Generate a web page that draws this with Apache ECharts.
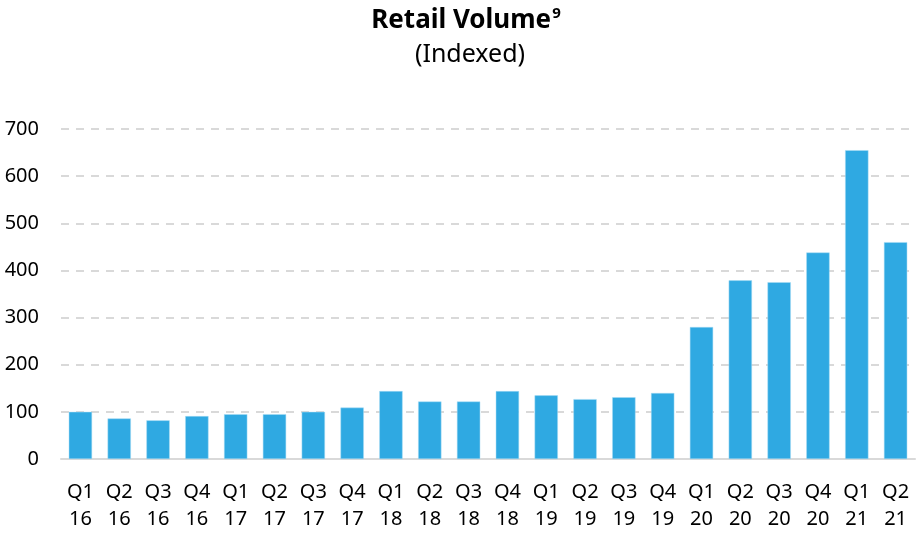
<!DOCTYPE html>
<html><head><meta charset="utf-8">
<script src="https://cdn.jsdelivr.net/npm/echarts@6/dist/echarts.min.js"></script>
<style>html,body{margin:0;padding:0;background:#fff}#c{width:917px;height:533px}</style>
</head><body><div id="c"></div>
<script>
const categories = ["Q1\n16","Q2\n16","Q3\n16","Q4\n16","Q1\n17","Q2\n17","Q3\n17","Q4\n17","Q1\n18","Q2\n18","Q3\n18","Q4\n18","Q1\n19","Q2\n19","Q3\n19","Q4\n19","Q1\n20","Q2\n20","Q3\n20","Q4\n20","Q1\n21","Q2\n21"];
const values = [100,86,82,91,95,95,100,109,144,122,122,144,135,127,131,140,280,379,375,438,655,460];
const yTicks = [0,100,200,300,400,500,600,700];
const FONT = "'Noto Sans', 'Open Sans', sans-serif";
const chart = echarts.init(document.getElementById('c'), null, {renderer:'canvas'});
chart.setOption({
  animation:false,
  title:[
    {text:'{b|Retail Volume}{s|9}', left:461, top:0, textAlign:'center',
     textStyle:{rich:{b:{fontFamily:FONT,fontWeight:'bold',fontSize:26,color:'#000',lineHeight:32},
                      s:{fontFamily:FONT,fontWeight:'bold',fontSize:15,color:'#000',verticalAlign:'top',lineHeight:15,padding:[1,0,0,1]}}}},
    {text:'(Indexed)', left:465, top:37, textAlign:'center',
     textStyle:{fontFamily:FONT,fontWeight:'normal',fontSize:25,color:'#000'}}
  ],
  grid:{left:61,right:2,top:129,bottom:72,containLabel:false},
  xAxis:{type:'category',data:categories,
    axisLine:{lineStyle:{color:'#d9d9d9',width:2}},
    axisTick:{show:false},
    axisLabel:{fontFamily:FONT,fontSize:20,color:'#000',lineHeight:27,margin:20,interval:0}},
  yAxis:{type:'value',min:yTicks[0],max:yTicks[yTicks.length-1],interval:100,
    axisLine:{show:false},axisTick:{show:false},
    axisLabel:{fontFamily:FONT,fontSize:20,color:'#000',margin:22},
    splitLine:{lineStyle:{color:'#d9d9d9',type:[8,7],width:2}}},
  series:[{type:'bar',data:values,barWidth:'60%',
    itemStyle:{color:'#2FA9E2',borderColor:'#a9dcf4',borderWidth:0.5}}]
});
</script></body></html>
